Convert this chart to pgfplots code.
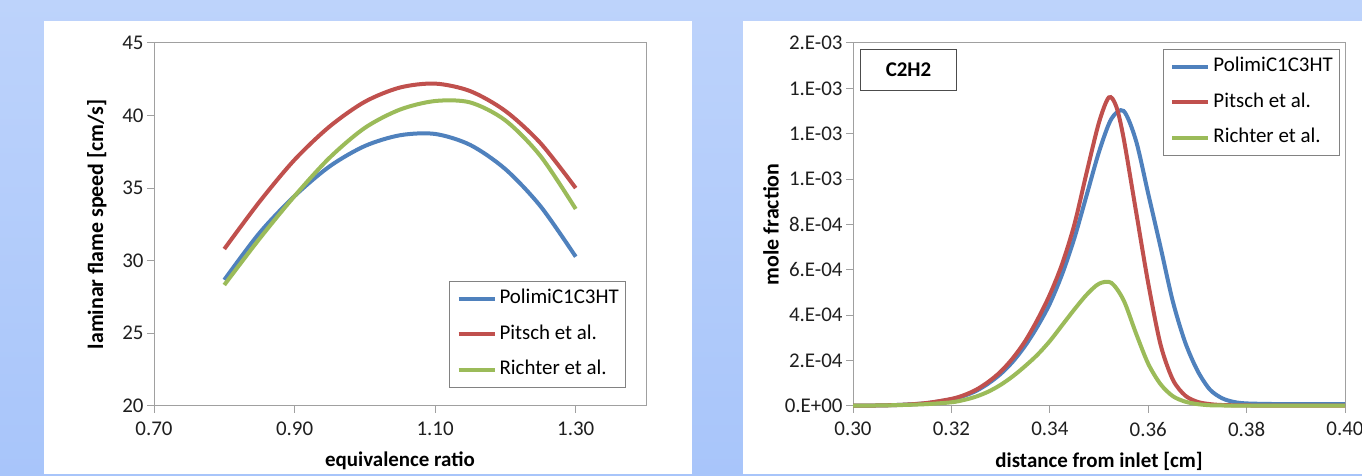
\documentclass[border=0pt]{standalone}
\usepackage{fontspec}
\setmainfont{Carlito}
\usepackage{pgfplots}
\pgfplotsset{compat=1.18}
\definecolor{bgtop}{RGB}{189,211,251}
\definecolor{bgbot}{RGB}{168,197,250}
\definecolor{axgray}{RGB}{160,160,160}
\definecolor{leggray}{RGB}{130,130,130}
\definecolor{cblue}{RGB}{79,129,189}
\definecolor{cred}{RGB}{192,80,77}
\definecolor{cgreen}{RGB}{155,187,89}
\pgfplotsset{
 mystyle/.style={
  scale only axis, width=492bp, height=362.7bp,
  axis line style={axgray, line width=1bp},
  tick style={axgray, line width=1bp},
  tick align=outside, major tick length=7bp,
  xtick pos=bottom, ytick pos=left,
  tick label style={font=\fontsize{21}{25}\selectfont, text=black!88},
  xticklabel style={yshift=-6bp},
  xlabel style={font=\bfseries\fontsize{21}{25}\selectfont},
  ylabel style={font=\bfseries\fontsize{22}{26}\selectfont},
  /pgf/number format/assume math mode=true,
  scaled ticks=false,
  clip=false,
  legend cell align=left,
  legend image code/.code={\draw[##1, line width=4bp] (0bp,0bp) -- (36bp,0bp);},
  legend style={draw=leggray, line width=1bp, font=\fontsize{21}{25}\selectfont,
    inner xsep=7bp, inner ysep=8.5bp, row sep=17.5bp, column sep=3bp,
    nodes={inner sep=0pt, text height=14bp, text depth=4bp, anchor=west}},
  every axis plot/.append style={line width=4bp, smooth},
 }
}
\begin{document}
\begin{tikzpicture}[x=1bp,y=1bp]
\useasboundingbox (0,0) rectangle (1362,476);
\shade[top color=bgtop, bottom color=bgbot] (0,0) rectangle (1362,476);
\fill[white] (44,2) rectangle (692,455);
\fill[white] (743,2) rectangle (1362,455);

\begin{axis}[mystyle, at={(154bp,70.3bp)}, anchor=south west,
  xmin=0.7, xmax=1.4, ymin=20, ymax=45,
  xtick={0.7,0.9,1.1,1.3}, ytick={20,25,30,35,40,45},
  xticklabel style={/pgf/number format/.cd, fixed, fixed zerofill, precision=2},
  xlabel={equivalence ratio}, ylabel={laminar flame speed [cm/s]},
  xlabel style={at={(axis description cs:0.5,-0.153)}, anchor=center},
  ylabel style={at={(axis description cs:-0.116,0.5)}, anchor=center},
  legend style={at={(axis description cs:0.5996,0.3438)}, anchor=north west},
]
\addplot[cblue] coordinates {(0.80,28.67) (0.85,31.9) (0.90,34.45) (0.95,36.5) (1.00,37.9) (1.05,38.64)
  (1.10,38.73) (1.15,37.97) (1.20,36.3) (1.25,33.74) (1.30,30.27)};
\addlegendentry{PolimiC1C3HT}
\addplot[cred] coordinates {(0.80,30.8) (0.85,34.05) (0.90,36.95) (0.95,39.25) (1.00,40.95) (1.05,41.93)
  (1.10,42.2) (1.15,41.68) (1.20,40.31) (1.25,38.09) (1.30,35.0)};
\addlegendentry{Pitsch et al.}
\addplot[cgreen] coordinates {(0.80,28.32) (0.85,31.5) (0.90,34.45) (0.95,37.1) (1.00,39.15) (1.05,40.41)
  (1.10,41.0) (1.15,40.9) (1.20,39.66) (1.25,37.2) (1.30,33.56)};
\addlegendentry{Richter et al.}
\end{axis}

\begin{axis}[mystyle, at={(853bp,70.3bp)}, anchor=south west,
  xmin=0.3, xmax=0.4, ymin=0, ymax=0.0016,
  xtick={0.30,0.32,0.34,0.36,0.38,0.40},
  xticklabel style={/pgf/number format/.cd, fixed, fixed zerofill, precision=2},
  ytick={0,0.0002,0.0004,0.0006,0.0008,0.0010,0.0012,0.0014,0.0016},
  yticklabels={0.E+00,2.E-04,4.E-04,6.E-04,8.E-04,1.E-03,1.E-03,1.E-03,2.E-03},
  xlabel={distance from inlet [cm]}, ylabel={mole fraction},
  xlabel style={at={(axis description cs:0.5,-0.153)}, anchor=center},
  ylabel style={at={(axis description cs:-0.1667,0.5)}, anchor=center},
  legend style={at={(axis description cs:0.630,0.9835)}, anchor=north west},
]
\addplot[cblue] coordinates {
(0.300,0.0) (0.305,0.000001) (0.310,0.000004) (0.315,0.000011) (0.320,0.000028)
(0.3225,0.000043) (0.325,0.000065) (0.3275,0.000098) (0.330,0.000140) (0.3325,0.000195)
(0.335,0.000265) (0.3375,0.000350) (0.340,0.000450) (0.3425,0.000580) (0.345,0.000740)
(0.3475,0.000930) (0.350,0.001120) (0.3525,0.001265) (0.355,0.001300)
(0.3575,0.001170) (0.360,0.000935) (0.3625,0.000700) (0.365,0.000460) (0.3675,0.000280)
(0.370,0.000155) (0.3725,0.000072) (0.375,0.000033) (0.3775,0.000016) (0.380,0.000010)
(0.385,0.0000075) (0.390,0.000007) (0.400,0.000007)};
\addlegendentry{PolimiC1C3HT}
\addplot[cred] coordinates {
(0.300,0.0) (0.305,0.000001) (0.310,0.000004) (0.315,0.000012) (0.320,0.000030)
(0.3225,0.000046) (0.325,0.000070) (0.3275,0.000105) (0.330,0.000150) (0.3325,0.000210)
(0.335,0.000285) (0.3375,0.000380) (0.340,0.000490) (0.3425,0.000625) (0.345,0.000800)
(0.3475,0.001030) (0.350,0.001250) (0.352,0.001360) (0.3535,0.001320) (0.355,0.001180)
(0.3575,0.000860) (0.360,0.000540) (0.3625,0.000270) (0.365,0.000115) (0.3675,0.000045)
(0.370,0.000017) (0.3725,0.000007) (0.375,0.000003) (0.380,0.000001) (0.390,0.0) (0.400,0.0)};
\addlegendentry{Pitsch et al.}
\addplot[cgreen] coordinates {
(0.300,0.0) (0.305,0.000001) (0.310,0.000003) (0.315,0.000007) (0.320,0.000015)
(0.3225,0.000025) (0.325,0.000040) (0.3275,0.000062) (0.330,0.000092) (0.3325,0.000130)
(0.335,0.000175) (0.3375,0.000225) (0.340,0.000285) (0.3425,0.000355) (0.345,0.000425)
(0.3475,0.000490) (0.350,0.000538) (0.3525,0.000542) (0.355,0.000465)
(0.3575,0.000320) (0.360,0.000185) (0.3625,0.000095) (0.365,0.000042) (0.3675,0.000018)
(0.370,0.000007) (0.3725,0.000002) (0.375,0.000001) (0.380,0.0) (0.400,0.0)};
\addlegendentry{Richter et al.}
\node[draw=black!70, line width=1bp, minimum width=96bp, minimum height=41bp, anchor=north west,
  font=\bfseries\fontsize{21}{25}\selectfont, inner sep=0pt] at (axis description cs:0.0142,0.9835) {C2H2};
\end{axis}
\end{tikzpicture}
\end{document}
